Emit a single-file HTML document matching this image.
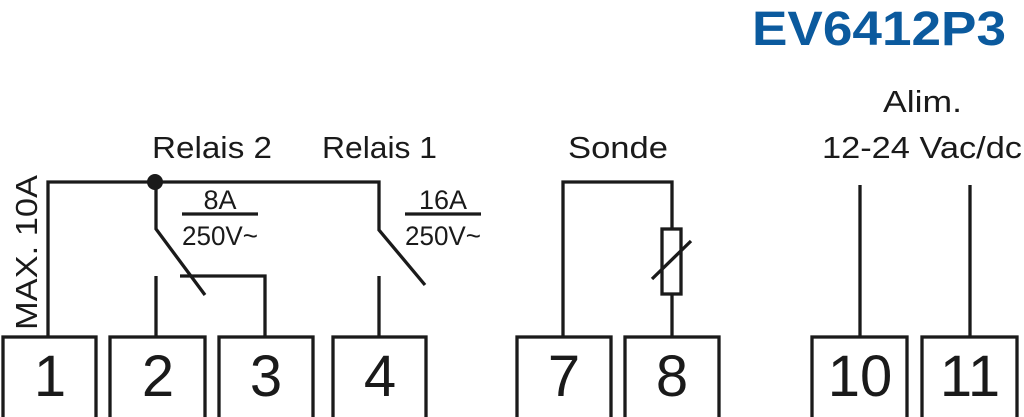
<!DOCTYPE html>
<html><head><meta charset="utf-8"><style>
html,body{margin:0;padding:0;background:#fff;width:1024px;height:417px;overflow:hidden}
svg{display:block}
text{font-family:"Liberation Sans",sans-serif;fill:#1a1a1a}
</style></head><body>
<svg width="1024" height="417" viewBox="0 0 1024 417" xmlns="http://www.w3.org/2000/svg">
<g fill="none" stroke="#1a1a1a" stroke-width="3.3">
<rect x="3" y="337" width="93" height="82"/>
<rect x="110" y="337" width="95" height="82"/>
<rect x="219" y="337" width="94" height="82"/>
<rect x="333" y="337" width="93" height="82"/>
<rect x="517" y="337" width="94" height="82"/>
<rect x="625" y="337" width="94" height="82"/>
<rect x="812" y="337" width="95" height="82"/>
<rect x="922" y="337" width="95" height="82"/>
<polyline points="48,337 48,182 379,182 379,230 425,285"/>
<polyline points="156,182 156,229 205,295"/>
<line x1="156" y1="276" x2="156" y2="337"/>
<polyline points="180,276 265,276 265,337"/>
<line x1="379" y1="276" x2="379" y2="337"/>
<line x1="182" y1="214" x2="258" y2="214"/>
<line x1="405" y1="214" x2="481" y2="214"/>
<polyline points="563,337 563,182 672,182 672,229"/>
<rect x="662" y="229" width="19" height="65"/>
<line x1="672" y1="294" x2="672" y2="337"/>
<line x1="652" y1="279" x2="691" y2="241"/>
<line x1="860" y1="185" x2="860" y2="337"/>
<line x1="970" y1="185" x2="970" y2="337"/>
</g>
<circle cx="155" cy="182" r="8" fill="#1a1a1a"/>
<text x="1006" y="45" text-anchor="end" font-size="48" font-weight="bold" style="fill:#0b5a9e" textLength="254" lengthAdjust="spacingAndGlyphs">EV6412P3</text>
<g font-size="31">
<text x="152" y="158" textLength="120" lengthAdjust="spacingAndGlyphs">Relais 2</text>
<text x="322" y="158" textLength="115" lengthAdjust="spacingAndGlyphs">Relais 1</text>
<text x="568" y="158" textLength="100" lengthAdjust="spacingAndGlyphs">Sonde</text>
<text x="883" y="112" textLength="79" lengthAdjust="spacingAndGlyphs">Alim.</text>
<text x="822" y="158" textLength="200" lengthAdjust="spacingAndGlyphs">12-24 Vac/dc</text>
<text transform="translate(37,330) rotate(-90)" textLength="155" lengthAdjust="spacingAndGlyphs">MAX. 10A</text>
</g>
<g font-size="27" text-anchor="middle">
<text x="220" y="209">8A</text>
<text x="220" y="245" textLength="76" lengthAdjust="spacingAndGlyphs">250V~</text>
<text x="443" y="209">16A</text>
<text x="443" y="245" textLength="76" lengthAdjust="spacingAndGlyphs">250V~</text>
</g>
<g font-size="58" text-anchor="middle">
<text x="50" y="396">1</text>
<text x="158" y="396">2</text>
<text x="266" y="396">3</text>
<text x="380" y="396">4</text>
<text x="564" y="396">7</text>
<text x="672" y="396">8</text>
<text x="860" y="396">10</text>
<text x="970" y="396">11</text>
</g>
</svg>
</body></html>
